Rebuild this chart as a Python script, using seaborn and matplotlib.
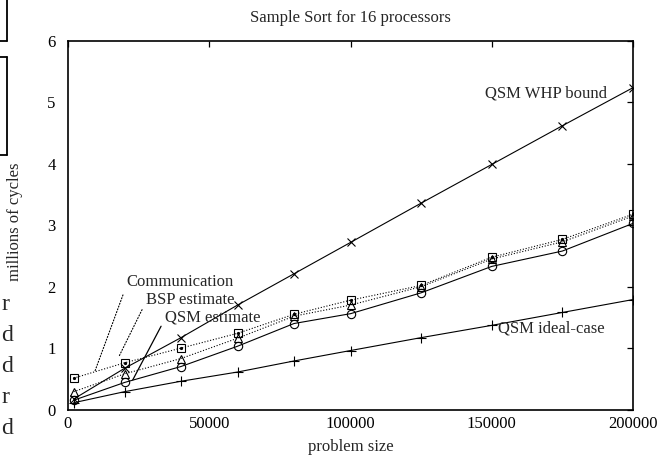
import matplotlib
matplotlib.use("Agg")
import matplotlib.pyplot as plt
import seaborn as sns
import numpy as np
from matplotlib.lines import Line2D

# ---- data ----
problem_size = [2000, 20000, 40000, 60000, 80000, 100000, 125000, 150000, 175000, 200000]
qsm_whp_bound = [0.17, 0.67, 1.17, 1.70, 2.21, 2.72, 3.36, 3.99, 4.62, 5.24]
qsm_ideal = [0.11, 0.29, 0.46, 0.61, 0.79, 0.96, 1.17, 1.37, 1.58, 1.79]
qsm_estimate = [0.15, 0.44, 0.70, 1.03, 1.40, 1.56, 1.90, 2.33, 2.58, 3.03]
bsp_estimate = [0.29, 0.58, 0.83, 1.16, 1.52, 1.70, 2.00, 2.45, 2.73, 3.15]
communication = [0.51, 0.76, 1.00, 1.24, 1.55, 1.78, 2.02, 2.48, 2.77, 3.18]

x_ticks = [0, 50000, 100000, 150000, 200000]
y_ticks = [0, 1, 2, 3, 4, 5, 6]
title = "Sample Sort for 16 processors"
x_label = "problem size"
y_label = "millions of cycles"
left_fragments = ["r", "d", "d", "r", "d"]

sns.set_style("white")
plt.rcParams["font.family"] = ["Liberation Serif", "DejaVu Serif"]

W, H = 663, 461
fig = plt.figure(figsize=(W / 100, H / 100), dpi=100)
L, R, T, B = 68, 633, 41, 409.5
ax = fig.add_axes([L / W, 1 - B / H, (R - L) / W, (B - T) / H])

dotted = (0, (1, 1.6))
common = dict(ax=ax, color="black", estimator=None, errorbar=None, sort=False,
              linewidth=0.8, markeredgecolor="black", markeredgewidth=0.8)

sns.lineplot(x=problem_size, y=qsm_whp_bound, marker="x", markersize=6, linestyle="-", **common)
sns.lineplot(x=problem_size, y=qsm_ideal, marker="+", markersize=7, linestyle="-", **common)
sns.lineplot(x=problem_size, y=qsm_estimate, marker="o", markersize=6, markerfacecolor="none",
             linestyle="-", **common)
sns.lineplot(x=problem_size, y=bsp_estimate, marker="^", markersize=5.5, markerfacecolor="none",
             linestyle=dotted, **common)
sns.lineplot(x=problem_size, y=communication, marker="s", markersize=6, markerfacecolor="none",
             linestyle=dotted, **common)
sns.lineplot(x=problem_size, y=communication, marker="o", markersize=1.5, markerfacecolor="black",
             linestyle="none", **common)

ax.set_xlim(0, 200000)
ax.set_ylim(0, 6)
ax.set_xticks(x_ticks)
ax.set_yticks(y_ticks)
ax.set_xticklabels([str(v) for v in x_ticks])
ax.tick_params(axis="both", direction="in", top=True, right=True, length=4.5, width=0.9,
               labelsize=12, colors="black")
ax.tick_params(axis="y", pad=9)
ax.tick_params(axis="x", pad=5)
for s in ax.spines.values():
    s.set_visible(True)
    s.set_linewidth(1.2)
    s.set_color("black")

ax.set_title(title, fontsize=12, pad=14)
ax.set_xlabel(x_label, fontsize=12, labelpad=5)
ax.set_ylabel("")
fig.text(15 / W, 1 - 222 / H, y_label, rotation=90, fontsize=12, ha="center", va="center")

# labels with leader lines
ax.annotate("Communication", xy=(9500, 0.62), xytext=(20780, 2.07), fontsize=12,
            ha="left", va="center",
            arrowprops=dict(arrowstyle="-", linestyle=":", lw=0.8, color="black",
                            shrinkA=1, shrinkB=0, relpos=(0, 0.35)))
ax.annotate("BSP estimate", xy=(18000, 0.86), xytext=(27600, 1.78), fontsize=12,
            ha="left", va="center",
            arrowprops=dict(arrowstyle="-", linestyle=":", lw=0.8, color="black",
                            shrinkA=1, shrinkB=0, relpos=(0, 0.4)))
ax.annotate("QSM estimate", xy=(22900, 0.48), xytext=(34340, 1.49), fontsize=12,
            ha="left", va="center",
            arrowprops=dict(arrowstyle="-", linestyle="-", lw=0.9, color="black",
                            shrinkA=1, shrinkB=0, relpos=(0, 0.45)))
ax.text(190690, 5.14, "QSM WHP bound", fontsize=12, ha="right", va="center")
ax.text(152320, 1.32, "QSM ideal-case", fontsize=12, ha="left", va="center")

# cropped page fragments on the left edge
def fl(x0, y0, x1, y1):
    fig.add_artist(Line2D([x0 / W, x1 / W], [1 - y0 / H, 1 - y1 / H], color="black", lw=1.3))

fl(0, 41.5, 7.3, 41.5)
fl(7.3, 0, 7.3, 41.5)
fl(0, 57, 7.3, 57)
fl(7.3, 57, 7.3, 155)
fl(0, 155, 7.3, 155)
for i, ch in enumerate(left_fragments):
    fig.text(1.5 / W, 1 - (310 + i * 31) / H, ch, fontsize=17, ha="left", va="baseline")

fig.savefig("out.png", dpi=100)
